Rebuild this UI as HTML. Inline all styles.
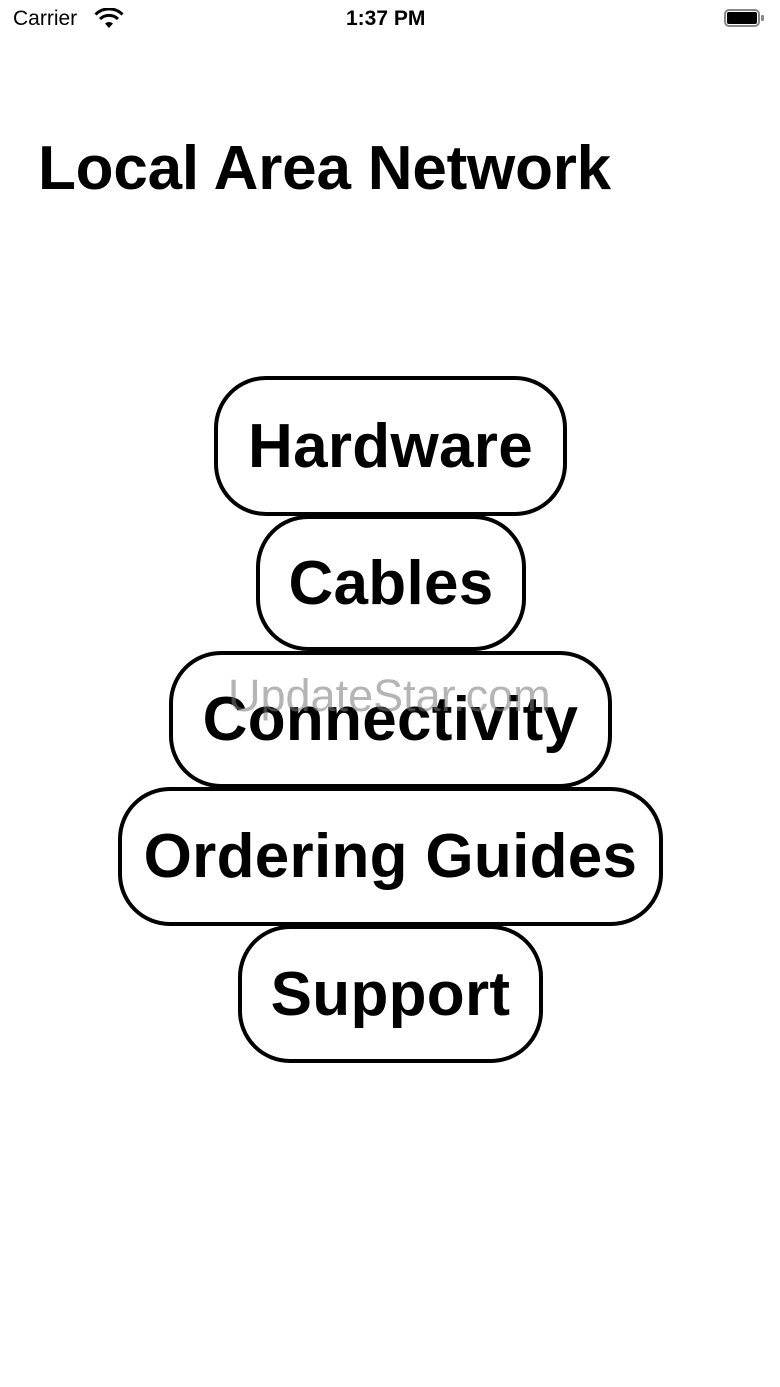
<!DOCTYPE html>
<html><head><meta charset="utf-8"><style>
html,body{margin:0;padding:0;background:#fff;width:780px;height:1387px;overflow:hidden;font-family:"Liberation Sans",sans-serif;position:relative}
.s{position:absolute;font-size:21px;color:#000;top:7px}
.t{position:absolute;left:38px;top:133px;font-size:62px;font-weight:bold;letter-spacing:-0.2px;white-space:nowrap}
.b{position:absolute;box-sizing:border-box;border:4px solid #000;border-radius:52px;background:#fff;display:flex;align-items:center;justify-content:center;font-size:62px;font-weight:bold;white-space:nowrap;letter-spacing:0.3px}
.w{position:absolute;left:228px;top:670px;font-size:45px;color:rgba(120,120,120,0.55);white-space:nowrap}
</style></head><body>
<div class="s" style="left:13px">Carrier</div>
<svg style="position:absolute;left:94px;top:8px" width="30" height="22" viewBox="0 0 30 22"><path d="M15 20 L11 15.5 A6 6 0 0 1 19 15.5Z" fill="#000"/><path d="M6 11 A13 13 0 0 1 24 11" stroke="#000" stroke-width="3" fill="none"/><path d="M1.5 6.5 A19 19 0 0 1 28.5 6.5" stroke="#000" stroke-width="3" fill="none"/></svg>
<div class="s" style="left:346px;font-weight:bold">1:37 PM</div>
<div style="position:absolute;left:724px;top:9px;width:36px;height:18px;border:2px solid #888;border-radius:5px;box-sizing:border-box"></div>
<div style="position:absolute;left:727px;top:12px;width:30px;height:12px;background:#000;border-radius:2px"></div>
<div style="position:absolute;left:761px;top:15px;width:3px;height:6px;background:#888;border-radius:1px"></div>
<div class="t">Local Area Network</div>
<div class="b" style="left:214px;top:376px;width:353px;height:140px">Hardware</div>
<div class="b" style="left:256px;top:515px;width:270px;height:136px">Cables</div>
<div class="b" style="left:169px;top:651px;width:443px;height:137px">Connectivity</div>
<div class="b" style="left:118px;top:787px;width:545px;height:139px">Ordering Guides</div>
<div class="b" style="left:238px;top:925px;width:305px;height:138px">Support</div>
<div class="w">UpdateStar.com</div>
</body></html>
